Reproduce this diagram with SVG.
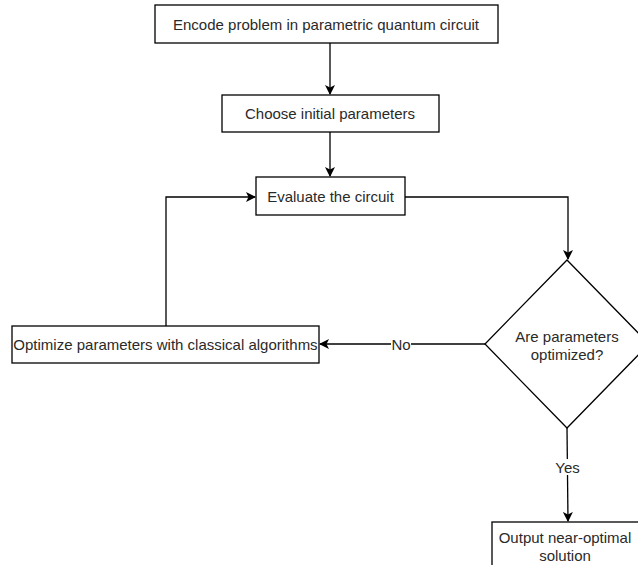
<svg xmlns="http://www.w3.org/2000/svg" width="638" height="565" viewBox="0 0 638 565">
  <style>
    .box { fill: #ffffff; stroke: #000000; stroke-width: 1.3; }
    .lbl { font-family: "Liberation Sans", Arial, sans-serif; font-size: 15px; fill: #2a2a2a; text-anchor: middle; dominant-baseline: central; }
    .edge { fill: none; stroke: #000000; stroke-width: 1.3; }
    .tag { fill: #ffffff; }
  </style>
  <defs>
    <marker id="arrow" viewBox="0 0 10 10" refX="9" refY="5" markerWidth="10" markerHeight="10" markerUnits="userSpaceOnUse" orient="auto">
      <path d="M0,0 L10,5 L0,10 L2.5,5 Z" fill="#000000"/>
    </marker>
  </defs>
  <rect width="638" height="565" fill="#ffffff"/>

  <!-- connectors -->
  <g id="connectors">
    <path class="edge" d="M330,43 L330,94" marker-end="url(#arrow)"/>
    <path class="edge" d="M330,132 L330,176" marker-end="url(#arrow)"/>
    <path class="edge" d="M405,197 L568,197 L568,259" marker-end="url(#arrow)"/>
    <path class="edge" d="M485,344 L320,344" marker-end="url(#arrow)"/>
    <path class="edge" d="M166,326 L166,197 L255,197" marker-end="url(#arrow)"/>
    <path class="edge" d="M567,428 L568,521" marker-end="url(#arrow)"/>
    <rect class="tag" x="391" y="336" width="20" height="16"/>
    <text class="lbl" x="401" y="344">No</text>
    <rect class="tag" x="553" y="459" width="29" height="16"/>
    <text class="lbl" x="567.5" y="467">Yes</text>
  </g>

  <g id="encode">
    <rect class="box" x="155" y="5" width="343" height="38"/>
    <text class="lbl" x="326" y="24">Encode problem in parametric quantum circuit</text>
  </g>

  <g id="choose">
    <rect class="box" x="222" y="95" width="217" height="37"/>
    <text class="lbl" x="330" y="113.5">Choose initial parameters</text>
  </g>

  <g id="evaluate">
    <rect class="box" x="256" y="177" width="149" height="38"/>
    <text class="lbl" x="330.5" y="196">Evaluate the circuit</text>
  </g>

  <g id="optimize">
    <rect class="box" x="12" y="326" width="307" height="37"/>
    <text class="lbl" x="165.5" y="344.5">Optimize parameters with classical algorithms</text>
  </g>

  <g id="decision">
    <path class="box" d="M567,260 L649,344 L567,428 L485,344 Z"/>
    <text class="lbl" x="567" y="336">Are parameters</text>
    <text class="lbl" x="567" y="354">optimized?</text>
  </g>

  <g id="output">
    <rect class="box" x="492" y="522" width="152" height="60"/>
    <text class="lbl" x="565" y="537">Output near-optimal</text>
    <text class="lbl" x="565" y="555">solution</text>
  </g>
</svg>
